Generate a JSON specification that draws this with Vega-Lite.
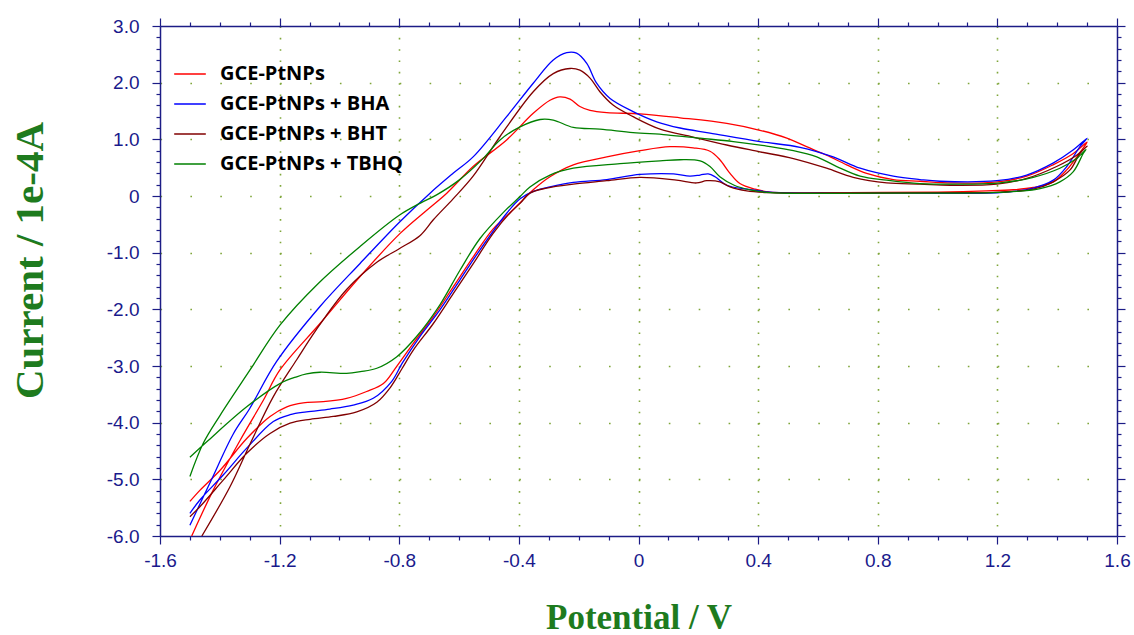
{
  "$schema": "https://vega.github.io/schema/vega-lite/v6.json",
  "width": 957,
  "height": 510,
  "autosize": {"type": "none"},
  "padding": {"left": 160, "top": 26, "right": 17, "bottom": 99},
  "background": "white",
  "config": {
    "view": {"stroke": null},
    "axis": {
      "domainColor": "#1c1c86",
      "domainWidth": 1.5,
      "tickColor": "#1c1c86",
      "tickWidth": 1.2,
      "labelColor": "#1a1a8c",
      "labelFont": "Liberation Sans",
      "labelFontSize": 19,
      "labelOverlap": false,
      "labelBound": false,
      "labelFlush": false,
      "titleFont": "Liberation Serif",
      "titleFontWeight": "bold",
      "titleColor": "#1e7b1e",
      "gridColor": "#7fa63a",
      "gridWidth": 1.6
    }
  },
  "data": {"values": [
    {"s":"GCE-PtNPs","i":1,"x":-1.494,"y":-6.0},{"s":"GCE-PtNPs","i":2,"x":-1.422,"y":-5.19},{"s":"GCE-PtNPs","i":3,"x":-1.332,"y":-4.31},{"s":"GCE-PtNPs","i":4,"x":-1.254,"y":-3.6},{"s":"GCE-PtNPs","i":5,"x":-1.199,"y":-3.07},{"s":"GCE-PtNPs","i":6,"x":-1.065,"y":-2.25},{"s":"GCE-PtNPs","i":7,"x":-0.931,"y":-1.42},{"s":"GCE-PtNPs","i":8,"x":-0.797,"y":-0.66},{"s":"GCE-PtNPs","i":9,"x":-0.708,"y":-0.25},{"s":"GCE-PtNPs","i":10,"x":-0.641,"y":0.05},{"s":"GCE-PtNPs","i":11,"x":-0.553,"y":0.52},{"s":"GCE-PtNPs","i":12,"x":-0.441,"y":0.99},{"s":"GCE-PtNPs","i":13,"x":-0.352,"y":1.46},{"s":"GCE-PtNPs","i":14,"x":-0.296,"y":1.69},{"s":"GCE-PtNPs","i":15,"x":-0.263,"y":1.75},{"s":"GCE-PtNPs","i":16,"x":-0.229,"y":1.71},{"s":"GCE-PtNPs","i":17,"x":-0.196,"y":1.58},{"s":"GCE-PtNPs","i":18,"x":-0.162,"y":1.51},{"s":"GCE-PtNPs","i":19,"x":-0.106,"y":1.47},{"s":"GCE-PtNPs","i":20,"x":0.005,"y":1.45},{"s":"GCE-PtNPs","i":21,"x":0.139,"y":1.38},{"s":"GCE-PtNPs","i":22,"x":0.295,"y":1.28},{"s":"GCE-PtNPs","i":23,"x":0.406,"y":1.16},{"s":"GCE-PtNPs","i":24,"x":0.496,"y":1.02},{"s":"GCE-PtNPs","i":25,"x":0.562,"y":0.87},{"s":"GCE-PtNPs","i":26,"x":0.629,"y":0.72},{"s":"GCE-PtNPs","i":27,"x":0.696,"y":0.55},{"s":"GCE-PtNPs","i":28,"x":0.763,"y":0.4},{"s":"GCE-PtNPs","i":29,"x":0.852,"y":0.29},{"s":"GCE-PtNPs","i":30,"x":0.941,"y":0.26},{"s":"GCE-PtNPs","i":31,"x":1.05,"y":0.23},{"s":"GCE-PtNPs","i":32,"x":1.2,"y":0.25},{"s":"GCE-PtNPs","i":33,"x":1.298,"y":0.35},{"s":"GCE-PtNPs","i":34,"x":1.386,"y":0.55},{"s":"GCE-PtNPs","i":35,"x":1.454,"y":0.75},{"s":"GCE-PtNPs","i":36,"x":1.5,"y":0.95},{"s":"GCE-PtNPs","i":37,"x":1.482,"y":0.81},{"s":"GCE-PtNPs","i":38,"x":1.432,"y":0.46},{"s":"GCE-PtNPs","i":39,"x":1.387,"y":0.25},{"s":"GCE-PtNPs","i":40,"x":1.32,"y":0.15},{"s":"GCE-PtNPs","i":41,"x":1.253,"y":0.11},{"s":"GCE-PtNPs","i":42,"x":1.164,"y":0.09},{"s":"GCE-PtNPs","i":43,"x":1.0,"y":0.07},{"s":"GCE-PtNPs","i":44,"x":0.7,"y":0.06},{"s":"GCE-PtNPs","i":45,"x":0.44,"y":0.07},{"s":"GCE-PtNPs","i":46,"x":0.39,"y":0.12},{"s":"GCE-PtNPs","i":47,"x":0.339,"y":0.22},{"s":"GCE-PtNPs","i":48,"x":0.306,"y":0.4},{"s":"GCE-PtNPs","i":49,"x":0.272,"y":0.64},{"s":"GCE-PtNPs","i":50,"x":0.239,"y":0.79},{"s":"GCE-PtNPs","i":51,"x":0.183,"y":0.85},{"s":"GCE-PtNPs","i":52,"x":0.105,"y":0.87},{"s":"GCE-PtNPs","i":53,"x":0.005,"y":0.8},{"s":"GCE-PtNPs","i":54,"x":-0.106,"y":0.69},{"s":"GCE-PtNPs","i":55,"x":-0.218,"y":0.55},{"s":"GCE-PtNPs","i":56,"x":-0.296,"y":0.34},{"s":"GCE-PtNPs","i":57,"x":-0.352,"y":0.11},{"s":"GCE-PtNPs","i":58,"x":-0.396,"y":-0.12},{"s":"GCE-PtNPs","i":59,"x":-0.43,"y":-0.3},{"s":"GCE-PtNPs","i":60,"x":-0.486,"y":-0.58},{"s":"GCE-PtNPs","i":61,"x":-0.552,"y":-1.07},{"s":"GCE-PtNPs","i":62,"x":-0.619,"y":-1.6},{"s":"GCE-PtNPs","i":63,"x":-0.686,"y":-2.13},{"s":"GCE-PtNPs","i":64,"x":-0.753,"y":-2.6},{"s":"GCE-PtNPs","i":65,"x":-0.809,"y":-3.01},{"s":"GCE-PtNPs","i":66,"x":-0.853,"y":-3.31},{"s":"GCE-PtNPs","i":67,"x":-0.909,"y":-3.45},{"s":"GCE-PtNPs","i":68,"x":-0.976,"y":-3.57},{"s":"GCE-PtNPs","i":69,"x":-1.054,"y":-3.63},{"s":"GCE-PtNPs","i":70,"x":-1.121,"y":-3.65},{"s":"GCE-PtNPs","i":71,"x":-1.176,"y":-3.72},{"s":"GCE-PtNPs","i":72,"x":-1.232,"y":-3.89},{"s":"GCE-PtNPs","i":73,"x":-1.31,"y":-4.28},{"s":"GCE-PtNPs","i":74,"x":-1.399,"y":-4.84},{"s":"GCE-PtNPs","i":75,"x":-1.466,"y":-5.19},{"s":"GCE-PtNPs","i":76,"x":-1.5,"y":-5.39},

    {"s":"GCE-PtNPs + BHA","i":1,"x":-1.5,"y":-5.81},{"s":"GCE-PtNPs + BHA","i":2,"x":-1.43,"y":-5.03},{"s":"GCE-PtNPs + BHA","i":3,"x":-1.355,"y":-4.2},{"s":"GCE-PtNPs + BHA","i":4,"x":-1.3,"y":-3.75},{"s":"GCE-PtNPs + BHA","i":5,"x":-1.21,"y":-2.92},{"s":"GCE-PtNPs + BHA","i":6,"x":-1.065,"y":-1.95},{"s":"GCE-PtNPs + BHA","i":7,"x":-0.931,"y":-1.19},{"s":"GCE-PtNPs + BHA","i":8,"x":-0.797,"y":-0.45},{"s":"GCE-PtNPs + BHA","i":9,"x":-0.697,"y":0.05},{"s":"GCE-PtNPs + BHA","i":10,"x":-0.62,"y":0.4},{"s":"GCE-PtNPs + BHA","i":11,"x":-0.553,"y":0.69},{"s":"GCE-PtNPs + BHA","i":12,"x":-0.441,"y":1.4},{"s":"GCE-PtNPs + BHA","i":13,"x":-0.352,"y":1.99},{"s":"GCE-PtNPs + BHA","i":14,"x":-0.285,"y":2.4},{"s":"GCE-PtNPs + BHA","i":15,"x":-0.24,"y":2.53},{"s":"GCE-PtNPs + BHA","i":16,"x":-0.207,"y":2.52},{"s":"GCE-PtNPs + BHA","i":17,"x":-0.173,"y":2.34},{"s":"GCE-PtNPs + BHA","i":18,"x":-0.14,"y":1.99},{"s":"GCE-PtNPs + BHA","i":19,"x":-0.095,"y":1.72},{"s":"GCE-PtNPs + BHA","i":20,"x":-0.018,"y":1.49},{"s":"GCE-PtNPs + BHA","i":21,"x":0.061,"y":1.31},{"s":"GCE-PtNPs + BHA","i":22,"x":0.139,"y":1.2},{"s":"GCE-PtNPs + BHA","i":23,"x":0.239,"y":1.11},{"s":"GCE-PtNPs + BHA","i":24,"x":0.406,"y":0.96},{"s":"GCE-PtNPs + BHA","i":25,"x":0.54,"y":0.86},{"s":"GCE-PtNPs + BHA","i":26,"x":0.651,"y":0.69},{"s":"GCE-PtNPs + BHA","i":27,"x":0.741,"y":0.49},{"s":"GCE-PtNPs + BHA","i":28,"x":0.852,"y":0.35},{"s":"GCE-PtNPs + BHA","i":29,"x":0.941,"y":0.29},{"s":"GCE-PtNPs + BHA","i":30,"x":1.008,"y":0.26},{"s":"GCE-PtNPs + BHA","i":31,"x":1.198,"y":0.27},{"s":"GCE-PtNPs + BHA","i":32,"x":1.298,"y":0.37},{"s":"GCE-PtNPs + BHA","i":33,"x":1.386,"y":0.58},{"s":"GCE-PtNPs + BHA","i":34,"x":1.453,"y":0.81},{"s":"GCE-PtNPs + BHA","i":35,"x":1.5,"y":1.02},{"s":"GCE-PtNPs + BHA","i":36,"x":1.476,"y":0.87},{"s":"GCE-PtNPs + BHA","i":37,"x":1.432,"y":0.52},{"s":"GCE-PtNPs + BHA","i":38,"x":1.387,"y":0.28},{"s":"GCE-PtNPs + BHA","i":39,"x":1.32,"y":0.14},{"s":"GCE-PtNPs + BHA","i":40,"x":1.209,"y":0.06},{"s":"GCE-PtNPs + BHA","i":41,"x":0.9,"y":0.05},{"s":"GCE-PtNPs + BHA","i":42,"x":0.6,"y":0.05},{"s":"GCE-PtNPs + BHA","i":43,"x":0.44,"y":0.07},{"s":"GCE-PtNPs + BHA","i":44,"x":0.362,"y":0.12},{"s":"GCE-PtNPs + BHA","i":45,"x":0.295,"y":0.19},{"s":"GCE-PtNPs + BHA","i":46,"x":0.256,"y":0.34},{"s":"GCE-PtNPs + BHA","i":47,"x":0.233,"y":0.39},{"s":"GCE-PtNPs + BHA","i":48,"x":0.206,"y":0.37},{"s":"GCE-PtNPs + BHA","i":49,"x":0.172,"y":0.35},{"s":"GCE-PtNPs + BHA","i":50,"x":0.117,"y":0.39},{"s":"GCE-PtNPs + BHA","i":51,"x":0.005,"y":0.38},{"s":"GCE-PtNPs + BHA","i":52,"x":-0.106,"y":0.29},{"s":"GCE-PtNPs + BHA","i":53,"x":-0.218,"y":0.24},{"s":"GCE-PtNPs + BHA","i":54,"x":-0.296,"y":0.16},{"s":"GCE-PtNPs + BHA","i":55,"x":-0.352,"y":0.08},{"s":"GCE-PtNPs + BHA","i":56,"x":-0.396,"y":-0.05},{"s":"GCE-PtNPs + BHA","i":57,"x":-0.44,"y":-0.3},{"s":"GCE-PtNPs + BHA","i":58,"x":-0.53,"y":-0.95},{"s":"GCE-PtNPs + BHA","i":59,"x":-0.597,"y":-1.48},{"s":"GCE-PtNPs + BHA","i":60,"x":-0.664,"y":-2.01},{"s":"GCE-PtNPs + BHA","i":61,"x":-0.731,"y":-2.48},{"s":"GCE-PtNPs + BHA","i":62,"x":-0.79,"y":-2.95},{"s":"GCE-PtNPs + BHA","i":63,"x":-0.825,"y":-3.27},{"s":"GCE-PtNPs + BHA","i":64,"x":-0.887,"y":-3.57},{"s":"GCE-PtNPs + BHA","i":65,"x":-0.954,"y":-3.69},{"s":"GCE-PtNPs + BHA","i":66,"x":-1.032,"y":-3.76},{"s":"GCE-PtNPs + BHA","i":67,"x":-1.11,"y":-3.81},{"s":"GCE-PtNPs + BHA","i":68,"x":-1.165,"y":-3.86},{"s":"GCE-PtNPs + BHA","i":69,"x":-1.221,"y":-3.98},{"s":"GCE-PtNPs + BHA","i":70,"x":-1.31,"y":-4.45},{"s":"GCE-PtNPs + BHA","i":71,"x":-1.388,"y":-4.92},{"s":"GCE-PtNPs + BHA","i":72,"x":-1.466,"y":-5.36},{"s":"GCE-PtNPs + BHA","i":73,"x":-1.5,"y":-5.6},

    {"s":"GCE-PtNPs + BHT","i":1,"x":-1.46,"y":-6.0},{"s":"GCE-PtNPs + BHT","i":2,"x":-1.366,"y":-5.13},{"s":"GCE-PtNPs + BHT","i":3,"x":-1.293,"y":-4.31},{"s":"GCE-PtNPs + BHT","i":4,"x":-1.221,"y":-3.54},{"s":"GCE-PtNPs + BHT","i":5,"x":-1.143,"y":-2.89},{"s":"GCE-PtNPs + BHT","i":6,"x":-1.08,"y":-2.38},{"s":"GCE-PtNPs + BHT","i":7,"x":-0.976,"y":-1.65},{"s":"GCE-PtNPs + BHT","i":8,"x":-0.875,"y":-1.17},{"s":"GCE-PtNPs + BHT","i":9,"x":-0.8,"y":-0.93},{"s":"GCE-PtNPs + BHT","i":10,"x":-0.731,"y":-0.7},{"s":"GCE-PtNPs + BHT","i":11,"x":-0.686,"y":-0.42},{"s":"GCE-PtNPs + BHT","i":12,"x":-0.62,"y":-0.05},{"s":"GCE-PtNPs + BHT","i":13,"x":-0.553,"y":0.35},{"s":"GCE-PtNPs + BHT","i":14,"x":-0.463,"y":1.05},{"s":"GCE-PtNPs + BHT","i":15,"x":-0.352,"y":1.84},{"s":"GCE-PtNPs + BHT","i":16,"x":-0.285,"y":2.16},{"s":"GCE-PtNPs + BHT","i":17,"x":-0.229,"y":2.25},{"s":"GCE-PtNPs + BHT","i":18,"x":-0.196,"y":2.22},{"s":"GCE-PtNPs + BHT","i":19,"x":-0.162,"y":2.08},{"s":"GCE-PtNPs + BHT","i":20,"x":-0.129,"y":1.84},{"s":"GCE-PtNPs + BHT","i":21,"x":-0.084,"y":1.6},{"s":"GCE-PtNPs + BHT","i":22,"x":-0.018,"y":1.4},{"s":"GCE-PtNPs + BHT","i":23,"x":0.072,"y":1.18},{"s":"GCE-PtNPs + BHT","i":24,"x":0.183,"y":1.04},{"s":"GCE-PtNPs + BHT","i":25,"x":0.295,"y":0.9},{"s":"GCE-PtNPs + BHT","i":26,"x":0.406,"y":0.78},{"s":"GCE-PtNPs + BHT","i":27,"x":0.518,"y":0.66},{"s":"GCE-PtNPs + BHT","i":28,"x":0.629,"y":0.49},{"s":"GCE-PtNPs + BHT","i":29,"x":0.718,"y":0.33},{"s":"GCE-PtNPs + BHT","i":30,"x":0.83,"y":0.23},{"s":"GCE-PtNPs + BHT","i":31,"x":0.941,"y":0.21},{"s":"GCE-PtNPs + BHT","i":32,"x":1.042,"y":0.19},{"s":"GCE-PtNPs + BHT","i":33,"x":1.198,"y":0.21},{"s":"GCE-PtNPs + BHT","i":34,"x":1.298,"y":0.31},{"s":"GCE-PtNPs + BHT","i":35,"x":1.398,"y":0.52},{"s":"GCE-PtNPs + BHT","i":36,"x":1.465,"y":0.72},{"s":"GCE-PtNPs + BHT","i":37,"x":1.5,"y":0.88},{"s":"GCE-PtNPs + BHT","i":38,"x":1.476,"y":0.75},{"s":"GCE-PtNPs + BHT","i":39,"x":1.443,"y":0.46},{"s":"GCE-PtNPs + BHT","i":40,"x":1.387,"y":0.25},{"s":"GCE-PtNPs + BHT","i":41,"x":1.32,"y":0.12},{"s":"GCE-PtNPs + BHT","i":42,"x":1.209,"y":0.07},{"s":"GCE-PtNPs + BHT","i":43,"x":1.0,"y":0.06},{"s":"GCE-PtNPs + BHT","i":44,"x":0.6,"y":0.05},{"s":"GCE-PtNPs + BHT","i":45,"x":0.44,"y":0.06},{"s":"GCE-PtNPs + BHT","i":46,"x":0.362,"y":0.09},{"s":"GCE-PtNPs + BHT","i":47,"x":0.306,"y":0.16},{"s":"GCE-PtNPs + BHT","i":48,"x":0.272,"y":0.25},{"s":"GCE-PtNPs + BHT","i":49,"x":0.228,"y":0.27},{"s":"GCE-PtNPs + BHT","i":50,"x":0.194,"y":0.23},{"s":"GCE-PtNPs + BHT","i":51,"x":0.127,"y":0.28},{"s":"GCE-PtNPs + BHT","i":52,"x":0.005,"y":0.33},{"s":"GCE-PtNPs + BHT","i":53,"x":-0.106,"y":0.27},{"s":"GCE-PtNPs + BHT","i":54,"x":-0.218,"y":0.21},{"s":"GCE-PtNPs + BHT","i":55,"x":-0.307,"y":0.14},{"s":"GCE-PtNPs + BHT","i":56,"x":-0.363,"y":0.05},{"s":"GCE-PtNPs + BHT","i":57,"x":-0.396,"y":-0.13},{"s":"GCE-PtNPs + BHT","i":58,"x":-0.43,"y":-0.3},{"s":"GCE-PtNPs + BHT","i":59,"x":-0.486,"y":-0.66},{"s":"GCE-PtNPs + BHT","i":60,"x":-0.552,"y":-1.19},{"s":"GCE-PtNPs + BHT","i":61,"x":-0.619,"y":-1.72},{"s":"GCE-PtNPs + BHT","i":62,"x":-0.686,"y":-2.25},{"s":"GCE-PtNPs + BHT","i":63,"x":-0.753,"y":-2.72},{"s":"GCE-PtNPs + BHT","i":64,"x":-0.79,"y":-3.04},{"s":"GCE-PtNPs + BHT","i":65,"x":-0.83,"y":-3.38},{"s":"GCE-PtNPs + BHT","i":66,"x":-0.875,"y":-3.64},{"s":"GCE-PtNPs + BHT","i":67,"x":-0.942,"y":-3.81},{"s":"GCE-PtNPs + BHT","i":68,"x":-1.02,"y":-3.89},{"s":"GCE-PtNPs + BHT","i":69,"x":-1.098,"y":-3.94},{"s":"GCE-PtNPs + BHT","i":70,"x":-1.165,"y":-4.01},{"s":"GCE-PtNPs + BHT","i":71,"x":-1.232,"y":-4.19},{"s":"GCE-PtNPs + BHT","i":72,"x":-1.31,"y":-4.54},{"s":"GCE-PtNPs + BHT","i":73,"x":-1.388,"y":-5.01},{"s":"GCE-PtNPs + BHT","i":74,"x":-1.466,"y":-5.48},{"s":"GCE-PtNPs + BHT","i":75,"x":-1.5,"y":-5.66},

    {"s":"GCE-PtNPs + TBHQ","i":1,"x":-1.5,"y":-4.95},{"s":"GCE-PtNPs + TBHQ","i":2,"x":-1.455,"y":-4.36},{"s":"GCE-PtNPs + TBHQ","i":3,"x":-1.399,"y":-3.87},{"s":"GCE-PtNPs + TBHQ","i":4,"x":-1.299,"y":-3.07},{"s":"GCE-PtNPs + TBHQ","i":5,"x":-1.199,"y":-2.28},{"s":"GCE-PtNPs + TBHQ","i":6,"x":-1.07,"y":-1.54},{"s":"GCE-PtNPs + TBHQ","i":7,"x":-0.931,"y":-0.89},{"s":"GCE-PtNPs + TBHQ","i":8,"x":-0.8,"y":-0.34},{"s":"GCE-PtNPs + TBHQ","i":9,"x":-0.731,"y":-0.13},{"s":"GCE-PtNPs + TBHQ","i":10,"x":-0.675,"y":0.02},{"s":"GCE-PtNPs + TBHQ","i":11,"x":-0.6,"y":0.28},{"s":"GCE-PtNPs + TBHQ","i":12,"x":-0.52,"y":0.66},{"s":"GCE-PtNPs + TBHQ","i":13,"x":-0.463,"y":0.99},{"s":"GCE-PtNPs + TBHQ","i":14,"x":-0.396,"y":1.22},{"s":"GCE-PtNPs + TBHQ","i":15,"x":-0.329,"y":1.35},{"s":"GCE-PtNPs + TBHQ","i":16,"x":-0.285,"y":1.34},{"s":"GCE-PtNPs + TBHQ","i":17,"x":-0.218,"y":1.21},{"s":"GCE-PtNPs + TBHQ","i":18,"x":-0.129,"y":1.18},{"s":"GCE-PtNPs + TBHQ","i":19,"x":-0.018,"y":1.12},{"s":"GCE-PtNPs + TBHQ","i":20,"x":0.094,"y":1.08},{"s":"GCE-PtNPs + TBHQ","i":21,"x":0.206,"y":1.02},{"s":"GCE-PtNPs + TBHQ","i":22,"x":0.317,"y":0.96},{"s":"GCE-PtNPs + TBHQ","i":23,"x":0.429,"y":0.88},{"s":"GCE-PtNPs + TBHQ","i":24,"x":0.518,"y":0.8},{"s":"GCE-PtNPs + TBHQ","i":25,"x":0.596,"y":0.69},{"s":"GCE-PtNPs + TBHQ","i":26,"x":0.663,"y":0.52},{"s":"GCE-PtNPs + TBHQ","i":27,"x":0.741,"y":0.35},{"s":"GCE-PtNPs + TBHQ","i":28,"x":0.83,"y":0.28},{"s":"GCE-PtNPs + TBHQ","i":29,"x":0.941,"y":0.22},{"s":"GCE-PtNPs + TBHQ","i":30,"x":1.1,"y":0.21},{"s":"GCE-PtNPs + TBHQ","i":31,"x":1.209,"y":0.23},{"s":"GCE-PtNPs + TBHQ","i":32,"x":1.32,"y":0.33},{"s":"GCE-PtNPs + TBHQ","i":33,"x":1.409,"y":0.49},{"s":"GCE-PtNPs + TBHQ","i":34,"x":1.465,"y":0.66},{"s":"GCE-PtNPs + TBHQ","i":35,"x":1.496,"y":0.82},{"s":"GCE-PtNPs + TBHQ","i":36,"x":1.487,"y":0.75},{"s":"GCE-PtNPs + TBHQ","i":37,"x":1.454,"y":0.43},{"s":"GCE-PtNPs + TBHQ","i":38,"x":1.409,"y":0.25},{"s":"GCE-PtNPs + TBHQ","i":39,"x":1.343,"y":0.13},{"s":"GCE-PtNPs + TBHQ","i":40,"x":1.265,"y":0.08},{"s":"GCE-PtNPs + TBHQ","i":41,"x":1.186,"y":0.06},{"s":"GCE-PtNPs + TBHQ","i":42,"x":0.8,"y":0.05},{"s":"GCE-PtNPs + TBHQ","i":43,"x":0.44,"y":0.06},{"s":"GCE-PtNPs + TBHQ","i":44,"x":0.373,"y":0.11},{"s":"GCE-PtNPs + TBHQ","i":45,"x":0.32,"y":0.19},{"s":"GCE-PtNPs + TBHQ","i":46,"x":0.272,"y":0.34},{"s":"GCE-PtNPs + TBHQ","i":47,"x":0.239,"y":0.52},{"s":"GCE-PtNPs + TBHQ","i":48,"x":0.206,"y":0.62},{"s":"GCE-PtNPs + TBHQ","i":49,"x":0.139,"y":0.64},{"s":"GCE-PtNPs + TBHQ","i":50,"x":0.072,"y":0.62},{"s":"GCE-PtNPs + TBHQ","i":51,"x":-0.062,"y":0.57},{"s":"GCE-PtNPs + TBHQ","i":52,"x":-0.218,"y":0.49},{"s":"GCE-PtNPs + TBHQ","i":53,"x":-0.296,"y":0.37},{"s":"GCE-PtNPs + TBHQ","i":54,"x":-0.363,"y":0.16},{"s":"GCE-PtNPs + TBHQ","i":55,"x":-0.396,"y":-0.01},{"s":"GCE-PtNPs + TBHQ","i":56,"x":-0.45,"y":-0.28},{"s":"GCE-PtNPs + TBHQ","i":57,"x":-0.53,"y":-0.75},{"s":"GCE-PtNPs + TBHQ","i":58,"x":-0.597,"y":-1.31},{"s":"GCE-PtNPs + TBHQ","i":59,"x":-0.664,"y":-1.92},{"s":"GCE-PtNPs + TBHQ","i":60,"x":-0.742,"y":-2.48},{"s":"GCE-PtNPs + TBHQ","i":61,"x":-0.809,"y":-2.84},{"s":"GCE-PtNPs + TBHQ","i":62,"x":-0.875,"y":-3.04},{"s":"GCE-PtNPs + TBHQ","i":63,"x":-0.93,"y":-3.1},{"s":"GCE-PtNPs + TBHQ","i":64,"x":-0.976,"y":-3.13},{"s":"GCE-PtNPs + TBHQ","i":65,"x":-1.065,"y":-3.11},{"s":"GCE-PtNPs + TBHQ","i":66,"x":-1.11,"y":-3.14},{"s":"GCE-PtNPs + TBHQ","i":67,"x":-1.143,"y":-3.19},{"s":"GCE-PtNPs + TBHQ","i":68,"x":-1.199,"y":-3.31},{"s":"GCE-PtNPs + TBHQ","i":69,"x":-1.31,"y":-3.72},{"s":"GCE-PtNPs + TBHQ","i":70,"x":-1.438,"y":-4.31},{"s":"GCE-PtNPs + TBHQ","i":71,"x":-1.5,"y":-4.61}
  ]},
  "resolve": {"axis": {"x": "independent", "y": "independent"}},
  "layer": [
    {
      "mark": {"type": "line", "strokeWidth": 1.3, "clip": true, "interpolate": "catmull-rom"},
      "encoding": {
        "x": {
          "field": "x", "type": "quantitative",
          "scale": {"domain": [-1.6, 1.6], "nice": false, "zero": false},
          "axis": {
            "orient": "bottom",
            "title": "Potential / V",
            "titleFontSize": 35,
            "titleY": 92,
            "titleBaseline": "alphabetic",
            "values": [-1.6,-1.5,-1.4,-1.3,-1.2,-1.1,-1,-0.9,-0.8,-0.7,-0.6,-0.5,-0.4,-0.3,-0.2,-0.1,0,0.1,0.2,0.3,0.4,0.5,0.6,0.7,0.8,0.9,1,1.1,1.2,1.3,1.4,1.5,1.6],
            "labelExpr": "abs(round(datum.value*10)) % 4 == 0 ? (round(datum.value*10) == 0 ? '0' : (datum.value < 0 ? '-' : '') + format(abs(datum.value), '.1f')) : ''",
            "tickSize": {"condition": {"test": "abs(round(datum.value*10)) % 4 == 0", "value": 8}, "value": 4},
            "labelPadding": 7,
            "grid": true,
            "gridDash": [1.6, 9.73],
            "gridOpacity": {"condition": {"test": "abs(round(datum.value*10)) % 4 == 0 && abs(datum.value) < 1.55", "value": 1}, "value": 0}
          }
        },
        "y": {
          "field": "y", "type": "quantitative",
          "scale": {"domain": [-6, 3], "nice": false, "zero": false},
          "axis": {
            "orient": "left",
            "title": "Current / 1e-4A",
            "titleFontSize": 41,
            "titleX": -118,
            "titleY": 234,
            "titleAngle": 270,
            "titleAlign": "center",
            "titleBaseline": "alphabetic",
            "values": [-6,-5.8,-5.6,-5.4,-5.2,-5,-4.8,-4.6,-4.4,-4.2,-4,-3.8,-3.6,-3.4,-3.2,-3,-2.8,-2.6,-2.4,-2.2,-2,-1.8,-1.6,-1.4,-1.2,-1,-0.8,-0.6,-0.4,-0.2,0,0.2,0.4,0.6,0.8,1,1.2,1.4,1.6,1.8,2,2.2,2.4,2.6,2.8,3],
            "labelExpr": "abs(datum.value - round(datum.value)) < 0.01 ? (round(datum.value) == 0 ? '0' : (datum.value < 0 ? '-' : '') + format(abs(datum.value), '.1f')) : ''",
            "tickSize": {"condition": {"test": "abs(datum.value - round(datum.value)) < 0.01", "value": 8}, "value": 4},
            "labelPadding": 13,
            "grid": true,
            "gridDash": [1.6, 28.3],
            "gridOpacity": {"condition": {"test": "abs(datum.value - round(datum.value)) < 0.01 && datum.value > -5.9 && datum.value < 2.9", "value": 1}, "value": 0}
          }
        },
        "color": {
          "field": "s", "type": "nominal",
          "scale": {
            "domain": ["GCE-PtNPs", "GCE-PtNPs + BHA", "GCE-PtNPs + BHT", "GCE-PtNPs + TBHQ"],
            "range": ["#ff0000", "#0000ff", "#800000", "#008000"]
          },
          "legend": {
            "orient": "none",
            "legendX": 13,
            "legendY": 31,
            "title": null,
            "padding": 0,
            "symbolType": "stroke",
            "symbolSize": 1000,
            "symbolStrokeWidth": 1.5,
            "labelFont": "Open Sans",
            "labelFontSize": 20,
            "labelFontWeight": "bold",
            "labelColor": "#000000",
            "labelLimit": 0,
            "labelOffset": 13,
            "rowPadding": 3
          }
        },
        "order": {"field": "i", "type": "quantitative"}
      }
    },
    {
      "mark": {"type": "point", "opacity": 0, "size": 1},
      "encoding": {
        "x": {
          "field": "x", "type": "quantitative",
          "axis": {
            "orient": "top", "title": null, "labels": false, "grid": false,
            "values": [-1.6,-1.5,-1.4,-1.3,-1.2,-1.1,-1,-0.9,-0.8,-0.7,-0.6,-0.5,-0.4,-0.3,-0.2,-0.1,0,0.1,0.2,0.3,0.4,0.5,0.6,0.7,0.8,0.9,1,1.1,1.2,1.3,1.4,1.5,1.6],
            "tickSize": {"condition": {"test": "abs(round(datum.value*10)) % 4 == 0", "value": 8}, "value": 4}
          }
        },
        "y": {
          "field": "y", "type": "quantitative",
          "axis": {
            "orient": "right", "title": null, "labels": false, "grid": false,
            "values": [-6,-5.8,-5.6,-5.4,-5.2,-5,-4.8,-4.6,-4.4,-4.2,-4,-3.8,-3.6,-3.4,-3.2,-3,-2.8,-2.6,-2.4,-2.2,-2,-1.8,-1.6,-1.4,-1.2,-1,-0.8,-0.6,-0.4,-0.2,0,0.2,0.4,0.6,0.8,1,1.2,1.4,1.6,1.8,2,2.2,2.4,2.6,2.8,3],
            "tickSize": {"condition": {"test": "abs(datum.value - round(datum.value)) < 0.01", "value": 8}, "value": 4}
          }
        }
      }
    }
  ]
}
